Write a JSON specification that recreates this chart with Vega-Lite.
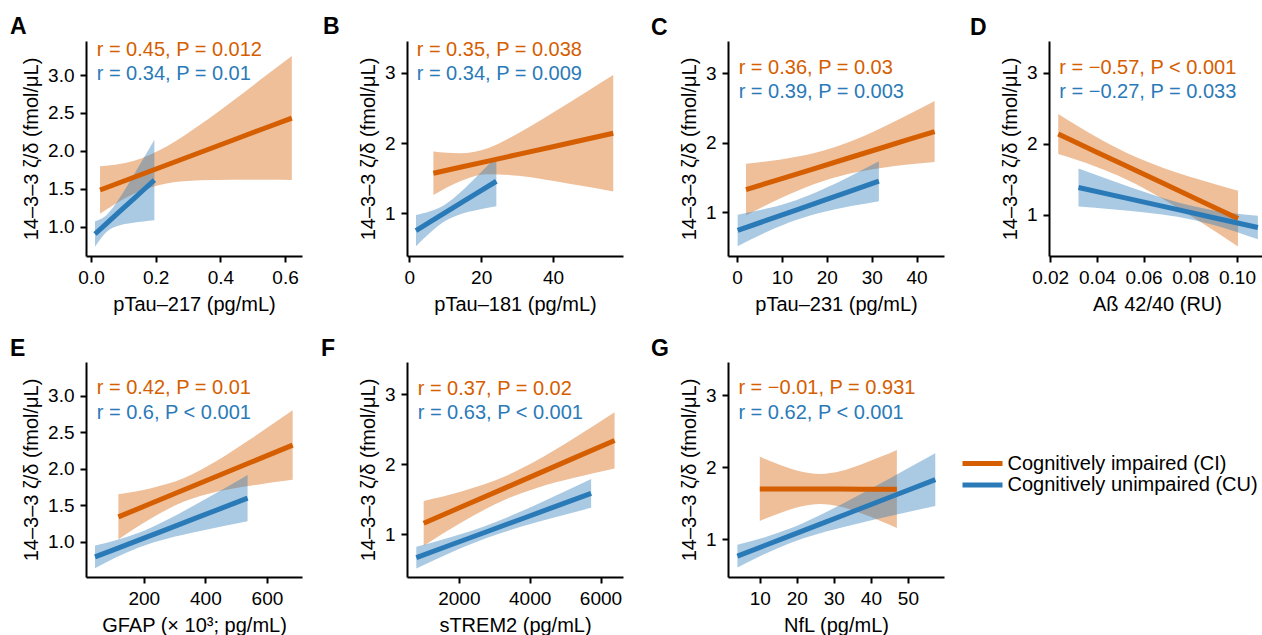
{
  "$schema": "https://vega.github.io/schema/vega-lite/v6.json",
  "padding": {"left": 10, "top": 16, "right": 0, "bottom": 0},
  "config": {
    "font": "Liberation Sans",
    "view": {"stroke": null},
    "axis": {"grid": false, "domainColor": "black", "domainWidth": 2, "tickColor": "black", "tickWidth": 2, "tickSize": 6, "labelFontSize": 19, "titleFontSize": 20, "labelColor": "black", "titleColor": "black", "titleFontWeight": "normal", "labelFlush": false, "labelOverlap": false},
    "axisY": {"labelPadding": 6, "titlePadding": 6},
    "axisX": {"labelPadding": 6, "titlePadding": 7}
  },
  "datasets": {
    "fits": [
      {"p": "A", "g": "CI", "x": 0.028, "fit": 1.484, "lo": 1.171, "hi": 1.796},
      {"p": "A", "g": "CI", "x": 0.131, "fit": 1.649, "lo": 1.431, "hi": 1.866},
      {"p": "A", "g": "CI", "x": 0.234, "fit": 1.814, "lo": 1.571, "hi": 2.059},
      {"p": "A", "g": "CI", "x": 0.337, "fit": 1.979, "lo": 1.611, "hi": 2.345},
      {"p": "A", "g": "CI", "x": 0.440, "fit": 2.144, "lo": 1.620, "hi": 2.666},
      {"p": "A", "g": "CI", "x": 0.543, "fit": 2.309, "lo": 1.620, "hi": 3.000},
      {"p": "A", "g": "CI", "x": 0.621, "fit": 2.433, "lo": 1.615, "hi": 3.251},
      {"p": "A", "g": "CU", "x": 0.0124, "fit": 0.903, "lo": 0.734, "hi": 1.073},
      {"p": "A", "g": "CU", "x": 0.0485, "fit": 1.044, "lo": 0.932, "hi": 1.155},
      {"p": "A", "g": "CU", "x": 0.0897, "fit": 1.204, "lo": 1.020, "hi": 1.387},
      {"p": "A", "g": "CU", "x": 0.131, "fit": 1.364, "lo": 1.052, "hi": 1.675},
      {"p": "A", "g": "CU", "x": 0.162, "fit": 1.484, "lo": 1.068, "hi": 1.899},
      {"p": "A", "g": "CU", "x": 0.196, "fit": 1.615, "lo": 1.084, "hi": 2.147},
      {"p": "B", "g": "CI", "x": 6.71, "fit": 1.570, "lo": 1.261, "hi": 1.879},
      {"p": "B", "g": "CI", "x": 14.17, "fit": 1.655, "lo": 1.457, "hi": 1.854},
      {"p": "B", "g": "CI", "x": 21.63, "fit": 1.740, "lo": 1.556, "hi": 1.924},
      {"p": "B", "g": "CI", "x": 30.96, "fit": 1.846, "lo": 1.532, "hi": 2.160},
      {"p": "B", "g": "CI", "x": 40.28, "fit": 1.952, "lo": 1.460, "hi": 2.445},
      {"p": "B", "g": "CI", "x": 49.60, "fit": 2.058, "lo": 1.376, "hi": 2.741},
      {"p": "B", "g": "CI", "x": 56.78, "fit": 2.140, "lo": 1.309, "hi": 2.971},
      {"p": "B", "g": "CU", "x": 1.86, "fit": 0.753, "lo": 0.530, "hi": 0.976},
      {"p": "B", "g": "CU", "x": 5.78, "fit": 0.876, "lo": 0.723, "hi": 1.029},
      {"p": "B", "g": "CU", "x": 9.98, "fit": 1.008, "lo": 0.889, "hi": 1.126},
      {"p": "B", "g": "CU", "x": 14.17, "fit": 1.140, "lo": 0.985, "hi": 1.295},
      {"p": "B", "g": "CU", "x": 18.83, "fit": 1.286, "lo": 1.046, "hi": 1.526},
      {"p": "B", "g": "CU", "x": 24.24, "fit": 1.456, "lo": 1.100, "hi": 1.812},
      {"p": "C", "g": "CI", "x": 2.01, "fit": 1.325, "lo": 0.955, "hi": 1.696},
      {"p": "C", "g": "CI", "x": 9.81, "fit": 1.480, "lo": 1.202, "hi": 1.757},
      {"p": "C", "g": "CI", "x": 17.25, "fit": 1.627, "lo": 1.405, "hi": 1.849},
      {"p": "C", "g": "CI", "x": 24.68, "fit": 1.775, "lo": 1.549, "hi": 2.000},
      {"p": "C", "g": "CI", "x": 32.12, "fit": 1.922, "lo": 1.636, "hi": 2.208},
      {"p": "C", "g": "CI", "x": 38.07, "fit": 2.042, "lo": 1.685, "hi": 2.399},
      {"p": "C", "g": "CI", "x": 44.01, "fit": 2.158, "lo": 1.720, "hi": 2.596},
      {"p": "C", "g": "CU", "x": 0.15, "fit": 0.737, "lo": 0.510, "hi": 0.964},
      {"p": "C", "g": "CU", "x": 6.84, "fit": 0.888, "lo": 0.721, "hi": 1.055},
      {"p": "C", "g": "CU", "x": 13.16, "fit": 1.030, "lo": 0.886, "hi": 1.173},
      {"p": "C", "g": "CU", "x": 19.48, "fit": 1.172, "lo": 1.005, "hi": 1.339},
      {"p": "C", "g": "CU", "x": 25.43, "fit": 1.306, "lo": 1.087, "hi": 1.525},
      {"p": "C", "g": "CU", "x": 31.60, "fit": 1.445, "lo": 1.158, "hi": 1.732},
      {"p": "D", "g": "CI", "x": 0.02347, "fit": 2.139, "lo": 1.856, "hi": 2.421},
      {"p": "D", "g": "CI", "x": 0.03906, "fit": 1.897, "lo": 1.685, "hi": 2.110},
      {"p": "D", "g": "CI", "x": 0.05264, "fit": 1.688, "lo": 1.499, "hi": 1.876},
      {"p": "D", "g": "CI", "x": 0.06794, "fit": 1.451, "lo": 1.232, "hi": 1.669},
      {"p": "D", "g": "CI", "x": 0.08238, "fit": 1.227, "lo": 0.942, "hi": 1.513},
      {"p": "D", "g": "CI", "x": 0.10043, "fit": 0.948, "lo": 0.555, "hi": 1.341},
      {"p": "D", "g": "CU", "x": 0.03213, "fit": 1.386, "lo": 1.118, "hi": 1.654},
      {"p": "D", "g": "CU", "x": 0.04628, "fit": 1.282, "lo": 1.079, "hi": 1.485},
      {"p": "D", "g": "CU", "x": 0.06072, "fit": 1.176, "lo": 1.033, "hi": 1.318},
      {"p": "D", "g": "CU", "x": 0.07516, "fit": 1.070, "lo": 0.969, "hi": 1.170},
      {"p": "D", "g": "CU", "x": 0.0896, "fit": 0.963, "lo": 0.862, "hi": 1.065},
      {"p": "D", "g": "CU", "x": 0.10895, "fit": 0.821, "lo": 0.656, "hi": 0.986},
      {"p": "E", "g": "CI", "x": 117.6, "fit": 1.342, "lo": 1.034, "hi": 1.651},
      {"p": "E", "g": "CI", "x": 220.6, "fit": 1.521, "lo": 1.312, "hi": 1.730},
      {"p": "E", "g": "CI", "x": 329.0, "fit": 1.709, "lo": 1.549, "hi": 1.869},
      {"p": "E", "g": "CI", "x": 437.4, "fit": 1.897, "lo": 1.686, "hi": 2.109},
      {"p": "E", "g": "CI", "x": 545.8, "fit": 2.085, "lo": 1.768, "hi": 2.403},
      {"p": "E", "g": "CI", "x": 683.5, "fit": 2.324, "lo": 1.849, "hi": 2.799},
      {"p": "E", "g": "CU", "x": 41.7, "fit": 0.795, "lo": 0.639, "hi": 0.950},
      {"p": "E", "g": "CU", "x": 112.2, "fit": 0.909, "lo": 0.792, "hi": 1.025},
      {"p": "E", "g": "CU", "x": 181.6, "fit": 1.021, "lo": 0.921, "hi": 1.121},
      {"p": "E", "g": "CU", "x": 274.8, "fit": 1.172, "lo": 1.044, "hi": 1.300},
      {"p": "E", "g": "CU", "x": 383.2, "fit": 1.348, "lo": 1.150, "hi": 1.546},
      {"p": "E", "g": "CU", "x": 537.1, "fit": 1.598, "lo": 1.281, "hi": 1.916},
      {"p": "F", "g": "CI", "x": 1007, "fit": 1.157, "lo": 0.836, "hi": 1.477},
      {"p": "F", "g": "CI", "x": 2047, "fit": 1.385, "lo": 1.161, "hi": 1.609},
      {"p": "F", "g": "CI", "x": 3314, "fit": 1.663, "lo": 1.497, "hi": 1.829},
      {"p": "F", "g": "CI", "x": 4222, "fit": 1.862, "lo": 1.665, "hi": 2.060},
      {"p": "F", "g": "CI", "x": 5262, "fit": 2.091, "lo": 1.806, "hi": 2.375},
      {"p": "F", "g": "CI", "x": 6397, "fit": 2.340, "lo": 1.938, "hi": 2.741},
      {"p": "F", "g": "CU", "x": 799, "fit": 0.667, "lo": 0.513, "hi": 0.822},
      {"p": "F", "g": "CU", "x": 1764, "fit": 0.847, "lo": 0.736, "hi": 0.957},
      {"p": "F", "g": "CU", "x": 2785, "fit": 1.036, "lo": 0.946, "hi": 1.126},
      {"p": "F", "g": "CU", "x": 3749, "fit": 1.215, "lo": 1.106, "hi": 1.324},
      {"p": "F", "g": "CU", "x": 4695, "fit": 1.391, "lo": 1.240, "hi": 1.542},
      {"p": "F", "g": "CU", "x": 5735, "fit": 1.584, "lo": 1.378, "hi": 1.791},
      {"p": "G", "g": "CI", "x": 10.0, "fit": 1.700, "lo": 1.256, "hi": 2.145},
      {"p": "G", "g": "CI", "x": 15.69, "fit": 1.699, "lo": 1.371, "hi": 2.030},
      {"p": "G", "g": "CI", "x": 21.11, "fit": 1.699, "lo": 1.458, "hi": 1.943},
      {"p": "G", "g": "CI", "x": 26.25, "fit": 1.698, "lo": 1.493, "hi": 1.908},
      {"p": "G", "g": "CI", "x": 31.94, "fit": 1.698, "lo": 1.453, "hi": 1.948},
      {"p": "G", "g": "CI", "x": 37.36, "fit": 1.697, "lo": 1.362, "hi": 2.039},
      {"p": "G", "g": "CI", "x": 42.78, "fit": 1.696, "lo": 1.252, "hi": 2.149},
      {"p": "G", "g": "CI", "x": 47.02, "fit": 1.695, "lo": 1.159, "hi": 2.242},
      {"p": "G", "g": "CU", "x": 3.95, "fit": 0.770, "lo": 0.613, "hi": 0.926},
      {"p": "G", "g": "CU", "x": 11.17, "fit": 0.913, "lo": 0.797, "hi": 1.029},
      {"p": "G", "g": "CU", "x": 17.58, "fit": 1.040, "lo": 0.939, "hi": 1.141},
      {"p": "G", "g": "CU", "x": 25.62, "fit": 1.199, "lo": 1.076, "hi": 1.323},
      {"p": "G", "g": "CU", "x": 34.65, "fit": 1.378, "lo": 1.197, "hi": 1.559},
      {"p": "G", "g": "CU", "x": 44.58, "fit": 1.575, "lo": 1.317, "hi": 1.833},
      {"p": "G", "g": "CU", "x": 57.40, "fit": 1.829, "lo": 1.465, "hi": 2.194}
    ],
    "labels": [
      {"p": "A", "g": "CI", "t": "r = 0.45, P = 0.012", "x": 0.0175, "fit": 3.246},
      {"p": "A", "g": "CU", "t": "r = 0.34, P = 0.01", "x": 0.0175, "fit": 2.934},
      {"p": "B", "g": "CI", "t": "r = 0.35, P = 0.038", "x": 2.05, "fit": 3.238},
      {"p": "B", "g": "CU", "t": "r = 0.34, P = 0.009", "x": 2.05, "fit": 2.900},
      {"p": "C", "g": "CI", "t": "r = 0.36, P = 0.03", "x": 0.37, "fit": 2.986},
      {"p": "C", "g": "CU", "t": "r = 0.39, P = 0.003", "x": 0.37, "fit": 2.636},
      {"p": "D", "g": "CI", "t": "r = −0.57, P < 0.001", "x": 0.0239, "fit": 2.986},
      {"p": "D", "g": "CU", "t": "r = −0.27, P = 0.033", "x": 0.0239, "fit": 2.642},
      {"p": "E", "g": "CI", "t": "r = 0.42, P = 0.01", "x": 47.2, "fit": 3.023},
      {"p": "E", "g": "CU", "t": "r = 0.6, P < 0.001", "x": 47.2, "fit": 2.680},
      {"p": "F", "g": "CI", "t": "r = 0.37, P = 0.02", "x": 837, "fit": 2.995},
      {"p": "F", "g": "CU", "t": "r = 0.63, P < 0.001", "x": 837, "fit": 2.639},
      {"p": "G", "g": "CI", "t": "r = −0.01, P = 0.931", "x": 4.22, "fit": 3.014},
      {"p": "G", "g": "CU", "t": "r = 0.62, P < 0.001", "x": 4.22, "fit": 2.668}
    ]
  },
  "columns": 4,
  "bounds": "flush",
  "spacing": {"row": 106, "column": 105},
  "resolve": {"legend": {"color": "independent"}},
  "concat": [
    {
      "width": 216, "height": 215,
      "title": {"text": "A", "anchor": "start", "frame": "group", "dx": -76, "fontSize": 23, "fontWeight": "bold", "baseline": "alphabetic", "offset": -17},
      "data": {"name": "fits"},
      "transform": [{"filter": "datum.p == 'A'"}],
      "encoding": {
        "x": {"field": "x", "type": "quantitative", "scale": {"domain": [-0.0155, 0.6525], "nice": false, "zero": false}, "axis": {"values": [0, 0.2, 0.4, 0.6], "format": ".1f"}, "title": "pTau–217 (pg/mL)"},
        "y": {"field": "fit", "type": "quantitative", "scale": {"domain": [0.613, 3.45], "nice": false, "zero": false}, "axis": {"values": [1, 1.5, 2, 2.5, 3], "format": ".1f"}, "title": "14–3–3 ζ/δ (fmol/μL)"},
        "color": {"field": "g", "type": "nominal", "scale": {"domain": ["CI", "CU"], "range": ["#D55E00", "#2A7AB8"]}, "legend": null}
      },
      "layer": [
        {"mark": {"type": "area", "opacity": 0.4, "interpolate": "monotone"}, "encoding": {"y": {"field": "lo", "type": "quantitative", "stack": null, "title": "14–3–3 ζ/δ (fmol/μL)"}, "y2": {"field": "hi"}}},
        {"mark": {"type": "line", "strokeWidth": 5}, "encoding": {}},
        {"data": {"name": "labels"}, "transform": [{"filter": "datum.p == 'A'"}], "mark": {"type": "text", "align": "left", "baseline": "alphabetic", "fontSize": 20}, "encoding": {"text": {"field": "t"}}}
      ]
    },
    {
      "width": 216, "height": 215,
      "title": {"text": "B", "anchor": "start", "frame": "group", "dx": -84, "fontSize": 23, "fontWeight": "bold", "baseline": "alphabetic", "offset": -17},
      "data": {"name": "fits"},
      "transform": [{"filter": "datum.p == 'B'"}],
      "encoding": {
        "x": {"field": "x", "type": "quantitative", "scale": {"domain": [-0.64, 59.5], "nice": false, "zero": false}, "axis": {"values": [0, 20, 40]}, "title": "pTau–181 (pg/mL)"},
        "y": {"field": "fit", "type": "quantitative", "scale": {"domain": [0.39, 3.456], "nice": false, "zero": false}, "axis": {"values": [1, 2, 3]}, "title": "14–3–3 ζ/δ (fmol/μL)"},
        "color": {"field": "g", "type": "nominal", "scale": {"domain": ["CI", "CU"], "range": ["#D55E00", "#2A7AB8"]}, "legend": null}
      },
      "layer": [
        {"mark": {"type": "area", "opacity": 0.4, "interpolate": "monotone"}, "encoding": {"y": {"field": "lo", "type": "quantitative", "stack": null, "title": "14–3–3 ζ/δ (fmol/μL)"}, "y2": {"field": "hi"}}},
        {"mark": {"type": "line", "strokeWidth": 5}, "encoding": {}},
        {"data": {"name": "labels"}, "transform": [{"filter": "datum.p == 'B'"}], "mark": {"type": "text", "align": "left", "baseline": "alphabetic", "fontSize": 20}, "encoding": {"text": {"field": "t"}}}
      ]
    },
    {
      "width": 216, "height": 215,
      "title": {"text": "C", "anchor": "start", "frame": "group", "dx": -77, "fontSize": 23, "fontWeight": "bold", "baseline": "alphabetic", "offset": -17},
      "data": {"name": "fits"},
      "transform": [{"filter": "datum.p == 'C'"}],
      "encoding": {
        "x": {"field": "x", "type": "quantitative", "scale": {"domain": [-2.0, 46.1], "nice": false, "zero": false}, "axis": {"values": [0, 10, 20, 30, 40]}, "title": "pTau–231 (pg/mL)"},
        "y": {"field": "fit", "type": "quantitative", "scale": {"domain": [0.37, 3.46], "nice": false, "zero": false}, "axis": {"values": [1, 2, 3]}, "title": "14–3–3 ζ/δ (fmol/μL)"},
        "color": {"field": "g", "type": "nominal", "scale": {"domain": ["CI", "CU"], "range": ["#D55E00", "#2A7AB8"]}, "legend": null}
      },
      "layer": [
        {"mark": {"type": "area", "opacity": 0.4, "interpolate": "monotone"}, "encoding": {"y": {"field": "lo", "type": "quantitative", "stack": null, "title": "14–3–3 ζ/δ (fmol/μL)"}, "y2": {"field": "hi"}}},
        {"mark": {"type": "line", "strokeWidth": 5}, "encoding": {}},
        {"data": {"name": "labels"}, "transform": [{"filter": "datum.p == 'C'"}], "mark": {"type": "text", "align": "left", "baseline": "alphabetic", "fontSize": 20}, "encoding": {"text": {"field": "t"}}}
      ]
    },
    {
      "width": 216, "height": 215,
      "title": {"text": "D", "anchor": "start", "frame": "group", "dx": -79, "fontSize": 23, "fontWeight": "bold", "baseline": "alphabetic", "offset": -17},
      "data": {"name": "fits"},
      "transform": [{"filter": "datum.p == 'D'"}],
      "encoding": {
        "x": {"field": "x", "type": "quantitative", "scale": {"domain": [0.0195, 0.112], "nice": false, "zero": false}, "axis": {"values": [0.02, 0.04, 0.06, 0.08, 0.1], "format": ".2f"}, "title": "Aß 42/40 (RU)"},
        "y": {"field": "fit", "type": "quantitative", "scale": {"domain": [0.42, 3.45], "nice": false, "zero": false}, "axis": {"values": [1, 2, 3]}, "title": "14–3–3 ζ/δ (fmol/μL)"},
        "color": {"field": "g", "type": "nominal", "scale": {"domain": ["CI", "CU"], "range": ["#D55E00", "#2A7AB8"]}, "legend": null}
      },
      "layer": [
        {"mark": {"type": "area", "opacity": 0.4, "interpolate": "monotone"}, "encoding": {"y": {"field": "lo", "type": "quantitative", "stack": null, "title": "14–3–3 ζ/δ (fmol/μL)"}, "y2": {"field": "hi"}}},
        {"mark": {"type": "line", "strokeWidth": 5}, "encoding": {}},
        {"data": {"name": "labels"}, "transform": [{"filter": "datum.p == 'D'"}], "mark": {"type": "text", "align": "left", "baseline": "alphabetic", "fontSize": 20}, "encoding": {"text": {"field": "t"}}}
      ]
    },
    {
      "width": 216, "height": 215,
      "title": {"text": "E", "anchor": "start", "frame": "group", "dx": -76, "fontSize": 23, "fontWeight": "bold", "baseline": "alphabetic", "offset": -17},
      "data": {"name": "fits"},
      "transform": [{"filter": "datum.p == 'E'"}],
      "encoding": {
        "x": {"field": "x", "type": "quantitative", "scale": {"domain": [12.4, 713.8], "nice": false, "zero": false}, "axis": {"values": [200, 400, 600]}, "title": "GFAP (× 10³; pg/mL)"},
        "y": {"field": "fit", "type": "quantitative", "scale": {"domain": [0.52, 3.46], "nice": false, "zero": false}, "axis": {"values": [1, 1.5, 2, 2.5, 3], "format": ".1f"}, "title": "14–3–3 ζ/δ (fmol/μL)"},
        "color": {"field": "g", "type": "nominal", "scale": {"domain": ["CI", "CU"], "range": ["#D55E00", "#2A7AB8"]}, "legend": null}
      },
      "layer": [
        {"mark": {"type": "area", "opacity": 0.4, "interpolate": "monotone"}, "encoding": {"y": {"field": "lo", "type": "quantitative", "stack": null, "title": "14–3–3 ζ/δ (fmol/μL)"}, "y2": {"field": "hi"}}},
        {"mark": {"type": "line", "strokeWidth": 5}, "encoding": {}},
        {"data": {"name": "labels"}, "transform": [{"filter": "datum.p == 'E'"}], "mark": {"type": "text", "align": "left", "baseline": "alphabetic", "fontSize": 20}, "encoding": {"text": {"field": "t"}}}
      ]
    },
    {
      "width": 216, "height": 215,
      "title": {"text": "F", "anchor": "start", "frame": "group", "dx": -86, "fontSize": 23, "fontWeight": "bold", "baseline": "alphabetic", "offset": -17},
      "data": {"name": "fits"},
      "transform": [{"filter": "datum.p == 'F'"}],
      "encoding": {
        "x": {"field": "x", "type": "quantitative", "scale": {"domain": [536, 6635], "nice": false, "zero": false}, "axis": {"values": [2000, 4000, 6000], "format": "d"}, "title": "sTREM2 (pg/mL)"},
        "y": {"field": "fit", "type": "quantitative", "scale": {"domain": [0.39, 3.46], "nice": false, "zero": false}, "axis": {"values": [1, 2, 3]}, "title": "14–3–3 ζ/δ (fmol/μL)"},
        "color": {"field": "g", "type": "nominal", "scale": {"domain": ["CI", "CU"], "range": ["#D55E00", "#2A7AB8"]}, "legend": null}
      },
      "layer": [
        {"mark": {"type": "area", "opacity": 0.4, "interpolate": "monotone"}, "encoding": {"y": {"field": "lo", "type": "quantitative", "stack": null, "title": "14–3–3 ζ/δ (fmol/μL)"}, "y2": {"field": "hi"}}},
        {"mark": {"type": "line", "strokeWidth": 5}, "encoding": {}},
        {"data": {"name": "labels"}, "transform": [{"filter": "datum.p == 'F'"}], "mark": {"type": "text", "align": "left", "baseline": "alphabetic", "fontSize": 20}, "encoding": {"text": {"field": "t"}}}
      ]
    },
    {
      "width": 216, "height": 215,
      "title": {"text": "G", "anchor": "start", "frame": "group", "dx": -77, "fontSize": 23, "fontWeight": "bold", "baseline": "alphabetic", "offset": -17},
      "data": {"name": "fits"},
      "transform": [{"filter": "datum.p == 'G'"}],
      "encoding": {
        "x": {"field": "x", "type": "quantitative", "scale": {"domain": [1.41, 59.75], "nice": false, "zero": false}, "axis": {"values": [10, 20, 30, 40, 50]}, "title": "NfL (pg/mL)"},
        "y": {"field": "fit", "type": "quantitative", "scale": {"domain": [0.48, 3.46], "nice": false, "zero": false}, "axis": {"values": [1, 2, 3]}, "title": "14–3–3 ζ/δ (fmol/μL)"},
        "color": {"field": "g", "type": "nominal", "scale": {"domain": ["CI", "CU"], "range": ["#D55E00", "#2A7AB8"]}, "legend": null}
      },
      "layer": [
        {"mark": {"type": "area", "opacity": 0.4, "interpolate": "monotone"}, "encoding": {"y": {"field": "lo", "type": "quantitative", "stack": null, "title": "14–3–3 ζ/δ (fmol/μL)"}, "y2": {"field": "hi"}}},
        {"mark": {"type": "line", "strokeWidth": 5}, "encoding": {}},
        {"data": {"name": "labels"}, "transform": [{"filter": "datum.p == 'G'"}], "mark": {"type": "text", "align": "left", "baseline": "alphabetic", "fontSize": 20}, "encoding": {"text": {"field": "t"}}}
      ]
    },
    {
      "width": 216, "height": 215,
      "data": {"name": "fits"},
      "transform": [{"filter": "datum.p == 'G'"}],
      "mark": {"type": "line", "strokeWidth": 5, "opacity": 0},
      "encoding": {
        "x": {"field": "x", "type": "quantitative", "axis": null},
        "y": {"field": "fit", "type": "quantitative", "axis": null},
        "color": {"field": "g", "type": "nominal", "scale": {"domain": ["CI", "CU"], "range": ["#D55E00", "#2A7AB8"]},
          "legend": {"orient": "none", "legendX": -76.5, "legendY": 91.5, "title": null, "symbolType": "M-4,0H4", "symbolSize": 100, "symbolStrokeWidth": 5, "symbolOpacity": 1, "labelFontSize": 20, "labelColor": "black", "labelOffset": 15, "labelLimit": 0, "rowPadding": 1.5, "padding": 0,
            "labelExpr": "datum.label == 'CI' ? 'Cognitively impaired (CI)' : 'Cognitively unimpaired (CU)'"}}
      }
    }
  ]
}
